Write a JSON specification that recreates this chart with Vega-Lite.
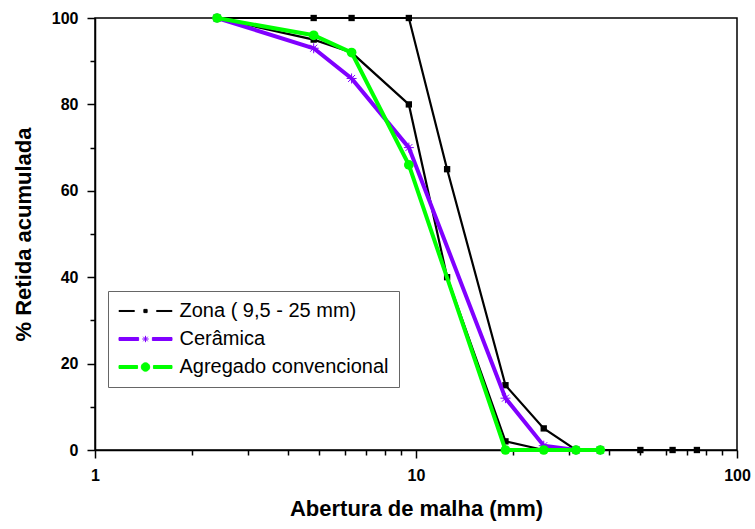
{
  "$schema": "https://vega.github.io/schema/vega-lite/v6.json",
  "autosize": {"type": "none"},
  "padding": {"left": 95, "top": 18, "right": 18, "bottom": 79},
  "width": 642,
  "height": 432,
  "background": "white",
  "config": {
    "view": {"stroke": "black", "strokeWidth": 1.5},
    "axis": {"grid": false,
      "labelFont": "Liberation Sans", "labelFontWeight": "bold", "labelFontSize": 16, "labelColor": "black",
      "titleFont": "Liberation Sans", "titleFontWeight": "bold", "titleFontSize": 22, "titleColor": "black"}
  },
  "data": {"values": [
    {"x": 2.4, "y": 100, "series": "Zona ( 9,5 - 25 mm)", "curve": "sup"},
    {"x": 4.8, "y": 100, "series": "Zona ( 9,5 - 25 mm)", "curve": "sup"},
    {"x": 6.3, "y": 100, "series": "Zona ( 9,5 - 25 mm)", "curve": "sup"},
    {"x": 9.5, "y": 100, "series": "Zona ( 9,5 - 25 mm)", "curve": "sup"},
    {"x": 12.5, "y": 65, "series": "Zona ( 9,5 - 25 mm)", "curve": "sup"},
    {"x": 19, "y": 15, "series": "Zona ( 9,5 - 25 mm)", "curve": "sup"},
    {"x": 25, "y": 5, "series": "Zona ( 9,5 - 25 mm)", "curve": "sup"},
    {"x": 31.5, "y": 0, "series": "Zona ( 9,5 - 25 mm)", "curve": "sup"},
    {"x": 37.5, "y": 0, "series": "Zona ( 9,5 - 25 mm)", "curve": "sup"},
    {"x": 50, "y": 0, "series": "Zona ( 9,5 - 25 mm)", "curve": "sup"},
    {"x": 63, "y": 0, "series": "Zona ( 9,5 - 25 mm)", "curve": "sup"},
    {"x": 75, "y": 0, "series": "Zona ( 9,5 - 25 mm)", "curve": "sup"},
    {"x": 2.4, "y": 100, "series": "Zona ( 9,5 - 25 mm)", "curve": "inf"},
    {"x": 4.8, "y": 95, "series": "Zona ( 9,5 - 25 mm)", "curve": "inf"},
    {"x": 6.3, "y": 92, "series": "Zona ( 9,5 - 25 mm)", "curve": "inf"},
    {"x": 9.5, "y": 80, "series": "Zona ( 9,5 - 25 mm)", "curve": "inf"},
    {"x": 12.5, "y": 40, "series": "Zona ( 9,5 - 25 mm)", "curve": "inf"},
    {"x": 19, "y": 2, "series": "Zona ( 9,5 - 25 mm)", "curve": "inf"},
    {"x": 25, "y": 0, "series": "Zona ( 9,5 - 25 mm)", "curve": "inf"},
    {"x": 2.4, "y": 100, "series": "Cerâmica", "curve": "cer"},
    {"x": 4.8, "y": 93, "series": "Cerâmica", "curve": "cer"},
    {"x": 6.3, "y": 86, "series": "Cerâmica", "curve": "cer"},
    {"x": 9.5, "y": 70, "series": "Cerâmica", "curve": "cer"},
    {"x": 19, "y": 12, "series": "Cerâmica", "curve": "cer"},
    {"x": 25, "y": 1, "series": "Cerâmica", "curve": "cer"},
    {"x": 31.5, "y": 0, "series": "Cerâmica", "curve": "cer"},
    {"x": 37.5, "y": 0, "series": "Cerâmica", "curve": "cer"},
    {"x": 2.4, "y": 100, "series": "Agregado convencional", "curve": "agr"},
    {"x": 4.8, "y": 96, "series": "Agregado convencional", "curve": "agr"},
    {"x": 6.3, "y": 92, "series": "Agregado convencional", "curve": "agr"},
    {"x": 9.5, "y": 66, "series": "Agregado convencional", "curve": "agr"},
    {"x": 19, "y": 0, "series": "Agregado convencional", "curve": "agr"},
    {"x": 25, "y": 0, "series": "Agregado convencional", "curve": "agr"},
    {"x": 31.5, "y": 0, "series": "Agregado convencional", "curve": "agr"},
    {"x": 37.5, "y": 0, "series": "Agregado convencional", "curve": "agr"}
  ]},
  "resolve": {"axis": {"x": "independent", "y": "independent"}},
  "layer": [
    {
      "encoding": {
        "x": {"field": "x", "type": "quantitative",
          "scale": {"type": "log", "domain": [1, 100], "nice": false},
          "axis": {"orient": "bottom", "values": [1, 10, 100], "tickSize": 8, "tickColor": "black", "tickWidth": 1.5,
            "domainColor": "black", "domainWidth": 1.5,
            "labelPadding": 9, "labelFlush": false, "labelOverlap": false,
            "title": "Abertura de malha (mm)", "titlePadding": 15}},
        "y": {"field": "y", "type": "quantitative",
          "scale": {"domain": [0, 100], "nice": false},
          "axis": {"orient": "left", "values": [0, 20, 40, 60, 80, 100], "tickSize": 8, "tickColor": "black", "tickWidth": 1.5,
            "domainColor": "black", "domainWidth": 1.5,
            "labelPadding": 9, "labelOverlap": false, "labelFlush": false,
            "title": "% Retida acumulada", "titlePadding": 16}}
      },
      "layer": [
        {"transform": [{"filter": "datum.curve == 'sup' || datum.curve == 'inf'"}],
         "mark": {"type": "line", "color": "black", "strokeWidth": 2.2},
         "encoding": {"detail": {"field": "curve"}}},
        {"transform": [{"filter": "datum.curve == 'sup' || datum.curve == 'inf'"}],
         "mark": {"type": "point", "shape": "square", "filled": true, "color": "black", "size": 40, "opacity": 1}},
        {"transform": [{"filter": "datum.curve == 'cer'"}],
         "mark": {"type": "line", "color": "#8000ff", "strokeWidth": 4}},
        {"transform": [{"filter": "datum.curve == 'cer'"}],
         "mark": {"type": "point", "shape": "M-1,0L1,0M0,-1L0,1M-0.7,-0.7L0.7,0.7M-0.7,0.7L0.7,-0.7", "filled": false, "color": "#8000ff", "strokeWidth": 1, "size": 100, "opacity": 1}},
        {"transform": [{"filter": "datum.curve == 'agr'"}],
         "mark": {"type": "line", "color": "#00ff00", "strokeWidth": 4}},
        {"transform": [{"filter": "datum.curve == 'agr'"}],
         "mark": {"type": "point", "shape": "circle", "filled": true, "color": "#00ff00", "size": 95, "opacity": 1}}
      ]
    },
    {
      "mark": {"type": "point", "filled": true, "size": 0, "opacity": 1, "strokeWidth": 1},
      "encoding": {
        "x": {"field": "x", "type": "quantitative",
          "scale": {"type": "log", "domain": [1, 100], "nice": false},
          "axis": {"orient": "bottom", "values": [2,3,4,5,6,7,8,9,20,30,40,50,60,70,80,90], "tickSize": 5, "tickColor": "black", "tickWidth": 1.5,
            "labels": false, "domain": false, "title": null}},
        "y": {"field": "y", "type": "quantitative",
          "scale": {"domain": [0, 100], "nice": false},
          "axis": {"orient": "left", "values": [10, 30, 50, 70, 90], "tickSize": 5, "tickColor": "black", "tickWidth": 1.5,
            "labels": false, "domain": false, "title": null}},
        "shape": {"field": "series", "type": "nominal",
          "scale": {"domain": ["Zona ( 9,5 - 25 mm)", "Cerâmica", "Agregado convencional"],
            "range": [
              "M-1,-0.059L0.708,-0.059L0.708,0.059L-1,0.059ZM3.18,-0.059L4.888,-0.059L4.888,0.059L3.18,0.059ZM1.764,-0.18L2.124,-0.18L2.124,0.18L1.764,0.18Z",
              "M-1,-0.168L1.179,-0.168L1.179,0.168L-1,0.168ZM2.709,-0.168L4.888,-0.168L4.888,0.168L2.709,0.168ZM1.591,0L2.297,0M1.944,-0.353L1.944,0.353M1.694,-0.25L2.194,0.25M1.694,0.25L2.194,-0.25",
              "M-1,-0.168L1.061,-0.168L1.061,0.168L-1,0.168ZM2.827,-0.168L4.888,-0.168L4.888,0.168L2.827,0.168ZM1.473,0A0.471,0.471 0 1,0 2.415,0A0.471,0.471 0 1,0 1.473,0Z"
            ]},
          "legend": {"title": null, "orient": "none", "legendX": 13, "legendY": 273,
            "symbolSize": 324, "symbolStrokeWidth": 1, "labelFont": "Liberation Sans", "labelFontSize": 20, "labelColor": "black",
            "labelFontWeight": "normal", "labelOffset": 41.5, "rowPadding": 8, "padding": 10,
            "strokeColor": "#666666", "fillColor": "white", "labelLimit": 400}},
        "fill": {"field": "series", "type": "nominal",
          "scale": {"domain": ["Zona ( 9,5 - 25 mm)", "Cerâmica", "Agregado convencional"], "range": ["black", "#8000ff", "#00ff00"]}},
        "stroke": {"field": "series", "type": "nominal",
          "scale": {"domain": ["Zona ( 9,5 - 25 mm)", "Cerâmica", "Agregado convencional"], "range": ["black", "#8000ff", "#00ff00"]}}
      }
    }
  ]
}
